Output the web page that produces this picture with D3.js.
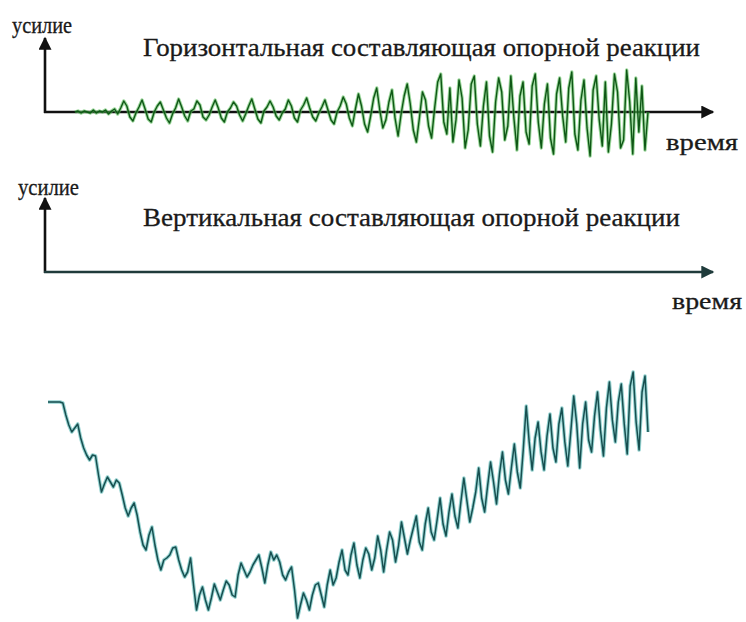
<!DOCTYPE html>
<html>
<head>
<meta charset="utf-8">
<script src="https://cdn.jsdelivr.net/npm/d3@7"></script>
<style>
  body { margin: 0; background: #fff; }
  text { font-family: "Liberation Serif", "DejaVu Serif", serif; fill: #1a1a1a; stroke: #1a1a1a; stroke-width: 0.3; }
</style>
</head>
<body>
<script>
var width = 746, height = 622;

// panel labels
var axisLabelY = "усилие";
var axisLabelX = "время";
var titles = ["Горизонтальная составляющая опорной реакции",
              "Вертикальная составляющая опорной реакции"];

// horizontal component of the support reaction (relative units, 0 = no load)
var hForce = [
  0, 1, -1, 1, 0, -1, 2, -1, 1, 0, 2, -2, 1, 3, -2,
  4, 11, 6, -5, -9, -1,
  5, 12, 3, -7, -10, 0,
  6, 10, 2, -6, -11, -2,
  4, 13, 5, -4, -9, 1,
  3, 11, 7, -5, -8, -3,
  5, 12, 4, -6, -10, 0,
  4, 10, 6, -3, -9, -2,
  6, 13, 3, -7, -11, 1,
  5, 11, 5, -4, -8, -1,
  3, 12, 6, -6, -10, 2,
  7, 14, 4, -5, -9, -1,
  5, 12, 2, -8, -12, 0,
  6, 15, 8,
  -6, -14, 3, 18, 6, -12, -20, -4, 14, 24, 2, -16, -8, 10, 22, -6, -24, -2,
  16, 28, 8, -18, -30, -6, 20, 12, -14, -26, 4, 30, 38, -10, -22,
  24, -30, -8, 32, 14, -36, -18, 28, 36, -12, -34, 6, 30, -24, -40, 10, 34,
  20, -28, -14, 36, -6, -38, 16, 30, -20, -32, 26, 38, -10, -36, 8, 28, -26,
  -42, 18, 34, -4, -30, 24, 40, -22, -38, 12, 32, -16, -44, 22, 36, -8, -34,
  30, -40, -12, 38, 20, -36, -28, 42, 10, -42, 34, -20, 26, -38, 0
];

// vertical component of the support reaction (relative units)
var vForce = [
  218, 218, 218, 218, 218, 217, 205, 195, 188, 192, 196, 182, 172, 165, 160,
  165, 164, 145, 128, 136, 143, 138, 133, 140, 137, 125, 112, 104, 112, 117,
  105, 88, 75, 70, 85, 93, 75, 60, 50, 60, 62, 65, 72, 73, 60,
  50, 43, 48, 62, 35, 10, 25, 33, 20, 10, 22, 36, 28, 20, 30,
  39, 35, 25, 23, 45, 57, 50, 43, 48, 55, 60, 65, 52, 37, 55,
  68, 60, 65, 58, 45, 40, 48, 53, 30, 2, 15, 27, 20, 10, 25,
  35, 37, 25, 13, 35, 50, 35, 42, 58, 70, 50, 45, 65, 77, 55,
  42, 60, 72, 66, 50, 62, 84, 70, 48, 70, 88, 80, 58, 74, 98,
  82, 66, 80, 92, 104, 78, 70, 96, 112, 88, 80, 100, 122, 96, 84,
  108, 126, 104, 92, 118, 142, 120, 98, 112, 128, 152, 122, 108, 134, 158,
  138, 116, 146, 168, 140, 126, 152, 176, 148, 132, 170, 214, 178, 150, 182,
  198, 168, 150, 184, 206, 172, 158, 196, 212, 178, 154, 188, 224, 196, 152,
  196, 218, 180, 168, 204, 228, 190, 164, 212, 238, 200, 178, 218, 236, 196,
  166, 234, 248, 198, 170, 228, 244, 188
];

var svg = d3.select("body").append("svg")
  .attr("width", width)
  .attr("height", height);

// arrow heads, one per colour
var defs = svg.append("defs");
[["arrowDark", "#111"], ["arrowTeal", "#1f3b3b"]].forEach(function (m) {
  defs.append("marker")
    .attr("id", m[0])
    .attr("viewBox", "0 0 10 10")
    .attr("refX", 9).attr("refY", 5)
    .attr("markerWidth", 5.5).attr("markerHeight", 5)
    .attr("markerUnits", "strokeWidth")
    .attr("orient", "auto")
    .append("path")
    .attr("d", "M0,0 L10,5 L0,10 z")
    .attr("fill", m[1]);
});

function axes(g, ox, oy, topY, rightX, color, marker) {
  g.append("line")
    .attr("x1", ox).attr("y1", oy + 1).attr("x2", ox).attr("y2", topY)
    .attr("stroke", "#111").attr("stroke-width", 2.6)
    .attr("marker-end", "url(#arrowDark)");
  g.append("line")
    .attr("x1", ox - 1).attr("y1", oy).attr("x2", rightX).attr("y2", oy)
    .attr("stroke", color).attr("stroke-width", 2.6)
    .attr("marker-end", "url(#" + marker + ")");
}

function label(g, x, y, size, len, txt) {
  g.append("text").attr("x", x).attr("y", y)
    .attr("textLength", len).attr("lengthAdjust", "spacingAndGlyphs")
    .style("font-size", size + "px").text(txt);
}

// --- top panel: horizontal component
var topPanel = svg.append("g");

var xH = d3.scaleLinear().domain([0, hForce.length - 1]).range([75, 648]);
var yH = d3.scaleLinear().domain([-50, 50]).range([162, 62]);

axes(topPanel, 45, yH(0), 38, 713, "#111", "arrowDark");

var lineH = d3.line()
  .x(function (d, i) { return xH(i); })
  .y(function (d) { return yH(d); });

topPanel.append("path").datum(hForce)
  .attr("d", lineH).attr("fill", "none")
  .attr("stroke", "#5cbf5c").attr("stroke-width", 3.4).attr("stroke-opacity", 0.6)
  .attr("stroke-linejoin", "round");
topPanel.append("path").datum(hForce)
  .attr("d", lineH).attr("fill", "none")
  .attr("stroke", "#0f5716").attr("stroke-width", 1.4)
  .attr("stroke-linejoin", "round");

label(topPanel, 12, 33, 23, 60, axisLabelY);
label(topPanel, 143, 56, 25, 557, titles[0]);
label(topPanel, 666, 150, 24, 72, axisLabelX);

// --- middle panel: vertical component axes
var midPanel = svg.append("g");
axes(midPanel, 45, 272, 198, 713, "#1f3b3b", "arrowTeal");

label(midPanel, 18, 195, 23, 61, axisLabelY);
label(midPanel, 143, 226, 25, 537, titles[1]);
label(midPanel, 672, 309, 24, 70, axisLabelX);

// --- bottom: vertical component trace
var bottomPanel = svg.append("g");

var xV = d3.scaleLinear().domain([0, vForce.length - 1]).range([48, 648]);
var yV = d3.scaleLinear().domain([0, 250]).range([620, 370]);

var lineV = d3.line()
  .x(function (d, i) { return xV(i); })
  .y(function (d) { return yV(d); });

bottomPanel.append("path").datum(vForce)
  .attr("d", lineV).attr("fill", "none")
  .attr("stroke", "#7cc8c6").attr("stroke-width", 3.6).attr("stroke-opacity", 0.8)
  .attr("stroke-linejoin", "round");
bottomPanel.append("path").datum(vForce)
  .attr("d", lineV).attr("fill", "none")
  .attr("stroke", "#174f50").attr("stroke-width", 1.5)
  .attr("stroke-linejoin", "round");
</script>
</body>
</html>
